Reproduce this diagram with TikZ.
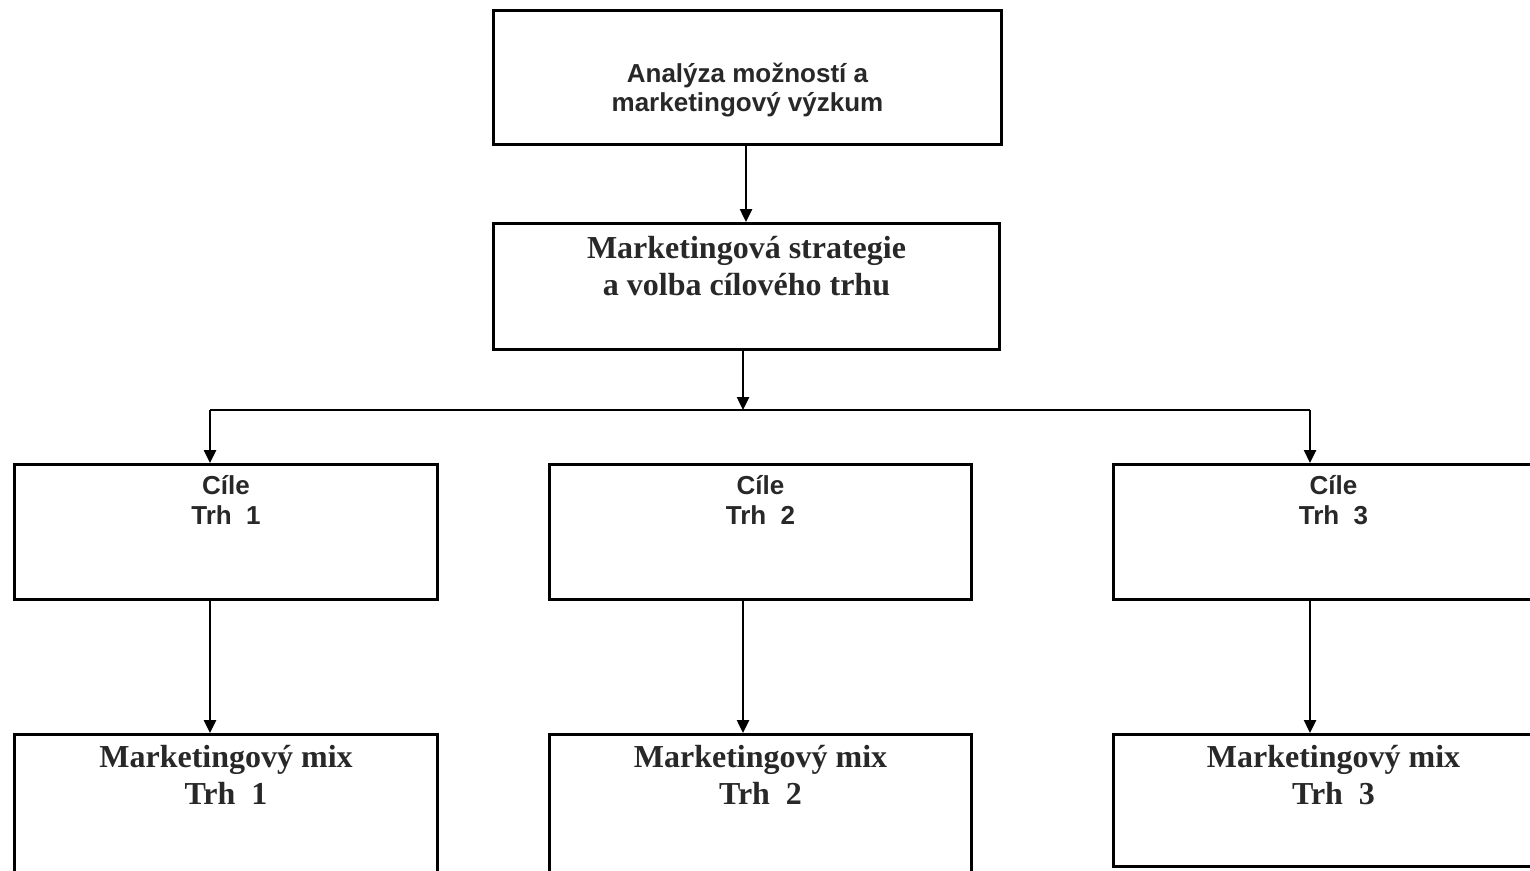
\documentclass[tikz,border=0pt]{standalone}
\usepackage{fontspec}
\setmainfont{Liberation Serif}
\newfontfamily\arialfont{Liberation Sans}
\usetikzlibrary{arrows.meta,positioning}
\definecolor{txtgray}{RGB}{40,40,40}
\begin{document}
\begin{tikzpicture}[x=1pt,y=-1pt,
    box/.style={draw,rectangle,line width=3pt,anchor=north west,inner sep=0pt},
    arr/.style={line width=2.5pt,-{Triangle[width=12pt,length=13pt]}},
    sanstxt/.style={align=center,text=txtgray,inner sep=0pt,font=\arialfont\bfseries\fontsize{26}{30}\selectfont},
    seriftxt/.style={align=center,text=txtgray,inner sep=0pt,font=\bfseries\fontsize{32}{37}\selectfont}]
    \useasboundingbox (0,0) rectangle (1530,870);
    \clip (0,0) rectangle (1530,870);
    % boxes
    \node[box,minimum width=508pt,minimum height=134pt] (analyza) at (492,9) {};
    \node[box,minimum width=506pt,minimum height=126pt] (strategie) at (492,222) {};
    \node[box,minimum width=423pt,minimum height=135pt] (cile1) at (13,463) {};
    \node[box,minimum width=422pt,minimum height=135pt] (cile2) at (548,463) {};
    \node[box,minimum width=440pt,minimum height=135pt] (cile3) at (1112,463) {};
    \node[box,minimum width=423pt,minimum height=160pt] (mix1) at (13,733) {};
    \node[box,minimum width=422pt,minimum height=160pt] (mix2) at (548,733) {};
    \node[box,minimum width=440pt,minimum height=132pt] (mix3) at (1112,733) {};
    % texts
    \node[sanstxt,font=\arialfont\bfseries\fontsize{26}{29}\selectfont] (analyza-t) at ([yshift=-13pt]analyza.center) {Analýza možností a\\marketingový výzkum};
    \node[seriftxt,below=14pt of strategie.north] (strategie-t) {Marketingová strategie\\a volba cílového trhu};
    \node[sanstxt,below=12pt of cile1.north] (cile1-t) {Cíle\\Trh\ \ 1};
    \node[sanstxt,below=12pt of cile2.north] (cile2-t) {Cíle\\Trh\ \ 2};
    \node[sanstxt,below=12pt of cile3.north] (cile3-t) {Cíle\\Trh\ \ 3};
    \node[seriftxt,below=12pt of mix1.north] (mix1-t) {Marketingový mix\\Trh\ \ 1};
    \node[seriftxt,below=12pt of mix2.north] (mix2-t) {Marketingový mix\\Trh\ \ 2};
    \node[seriftxt,below=12pt of mix3.north] (mix3-t) {Marketingový mix\\Trh\ \ 3};
    % connectors
    \coordinate (split) at (743,410);
    \coordinate (split-l) at (210,410);
    \coordinate (split-r) at (1310,410);
    \draw[arr] (analyza.south -| 746,0) -- (strategie.north -| 746,0);
    \draw[arr] (strategie.south -| split) -- (split);
    \draw[line width=2.5pt] (split-l) -- (split-r);
    \draw[arr] (split-l) -- (cile1.north -| split-l);
    \draw[arr] (split-r) -- (cile3.north -| split-r);
    \draw[arr] (cile1.south -| split-l) -- (mix1.north -| split-l);
    \draw[arr] (cile2.south -| split) -- (mix2.north -| split);
    \draw[arr] (cile3.south -| split-r) -- (mix3.north -| split-r);
\end{tikzpicture}
\end{document}
